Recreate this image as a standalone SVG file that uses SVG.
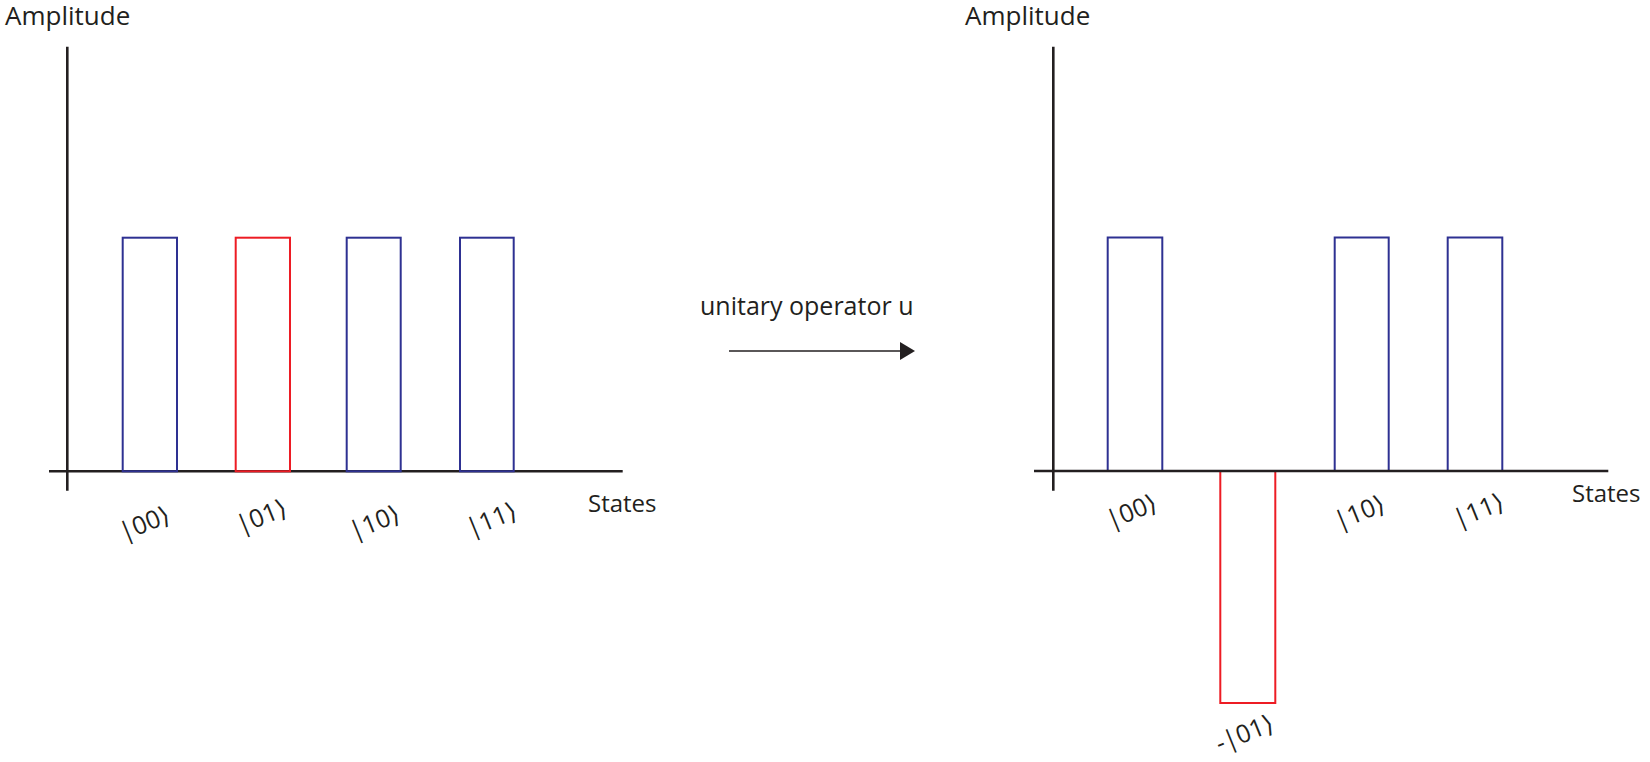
<svg xmlns="http://www.w3.org/2000/svg" width="1650" height="762" viewBox="0 0 1650 762">
<style>
.axis{stroke:#231f20;stroke-width:2.6;fill:none}
.blue{stroke:#2e3192;stroke-width:2;fill:none}
.red{stroke:#ed1c24;stroke-width:2;fill:none}
.title{font-family:"Open Sans","Liberation Sans",sans-serif;font-size:26px;fill:#231f20}
.lab{font-family:"Open Sans","Liberation Sans",sans-serif;font-size:24px;fill:#231f20}
.ket{font-family:"Open Sans","DejaVu Sans",sans-serif;font-size:25px;fill:#231f20}
</style>
<defs>
<marker id="ah" markerWidth="10" markerHeight="10" refX="0" refY="0" viewBox="0 -5 10 10" markerUnits="userSpaceOnUse" orient="auto" overflow="visible">
<path d="M0,-9 L15,0 L0,9 Z" fill="#231f20"/>
</marker>
</defs>
<g id="left-chart">
<text class="title" x="5" y="25">Amplitude</text>
<line class="axis" x1="67.3" y1="46.7" x2="67.3" y2="490.7"/>
<line class="axis" x1="49" y1="471.3" x2="622.7" y2="471.3"/>
<text class="lab" x="588" y="512">States</text>
</g>
<g id="left-bar-00"><rect class="blue" x="122.7" y="237.7" width="54.3" height="233.6"/><text class="ket" transform="translate(144,522) rotate(-22)" text-anchor="middle" dominant-baseline="central">|00⟩</text></g>
<g id="left-bar-01"><rect class="red" x="235.7" y="237.7" width="54.3" height="233.6"/><text class="ket" transform="translate(261,515) rotate(-22)" text-anchor="middle" dominant-baseline="central">|01⟩</text></g>
<g id="left-bar-10"><rect class="blue" x="346.7" y="237.7" width="54" height="233.6"/><text class="ket" transform="translate(374,521) rotate(-22)" text-anchor="middle" dominant-baseline="central">|10⟩</text></g>
<g id="left-bar-11"><rect class="blue" x="460" y="237.7" width="53.7" height="233.6"/><text class="ket" transform="translate(491,518) rotate(-22)" text-anchor="middle" dominant-baseline="central">|11⟩</text></g>

<g id="right-chart">
<text class="title" x="965" y="25">Amplitude</text>
<line class="axis" x1="1053.3" y1="46.7" x2="1053.3" y2="490.7"/>
<text class="lab" x="1572" y="502">States</text>
</g>
<g id="right-bar-00"><rect class="blue" x="1107.7" y="237.5" width="54.6" height="233.5"/><text class="ket" transform="translate(1131,510) rotate(-22)" text-anchor="middle" dominant-baseline="central">|00⟩</text></g>
<g id="right-bar-01"><rect class="red" x="1220.3" y="471" width="55" height="232"/><text class="ket" transform="translate(1244,732) rotate(-22)" text-anchor="middle" dominant-baseline="central">-|01⟩</text></g>
<g id="right-bar-10"><rect class="blue" x="1334.7" y="237.5" width="54" height="233.5"/><text class="ket" transform="translate(1359,511) rotate(-22)" text-anchor="middle" dominant-baseline="central">|10⟩</text></g>
<g id="right-bar-11"><rect class="blue" x="1447.7" y="237.5" width="54.6" height="233.5"/><text class="ket" transform="translate(1478,509) rotate(-22)" text-anchor="middle" dominant-baseline="central">|11⟩</text></g>
<g id="right-x-axis"><line class="axis" x1="1034" y1="471" x2="1608.3" y2="471"/></g>

<g id="connectors">
<text class="lab" x="700" y="315" style="font-size:25px">unitary operator u</text>
<line x1="729" y1="351" x2="900" y2="351" stroke="#231f20" stroke-width="1.6" marker-end="url(#ah)"/>
</g>
</svg>
